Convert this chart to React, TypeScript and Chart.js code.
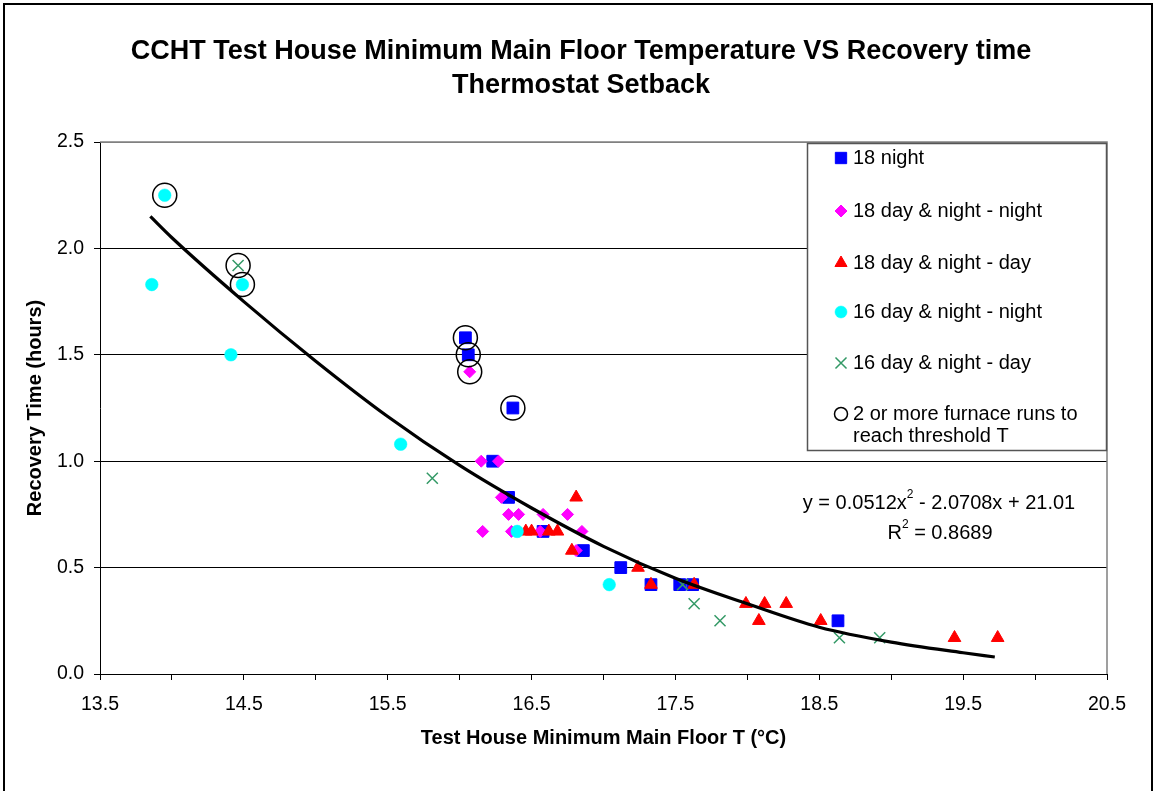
import React, { useEffect, useRef } from 'react';
import { Chart, registerables } from 'chart.js';
import { drawPoint } from 'chart.js/helpers';

Chart.register(...registerables);

const FONT = '"Liberation Sans", Arial, Helvetica, sans-serif';

const titleLines = [
  'CCHT Test House Minimum Main Floor Temperature VS Recovery time',
  'Thermostat Setback',
];
const xAxisTitle = 'Test House Minimum Main Floor T (°C)';
const yAxisTitle = 'Recovery Time (hours)';

const seriesNames = [
  '18 night',
  '18 day & night - night',
  '18 day & night - day',
  '16 day & night - night',
  '16 day & night - day',
];
const circledName = ['2 or more furnace runs to', 'reach threshold T'];

// 18 night (blue squares)
const night18X = [16.04, 16.06, 16.37, 16.23, 16.34, 16.58, 16.86, 17.12, 17.33, 17.53, 17.62, 18.63];
const night18Y = [1.58, 1.5, 1.25, 1.0, 0.83, 0.67, 0.58, 0.5, 0.42, 0.42, 0.42, 0.25];

// 18 day & night - night (magenta diamonds)
const dn18NightX = [16.07, 16.15, 16.27, 16.29, 16.34, 16.41, 16.58, 16.75, 16.16, 16.36, 16.56, 16.85, 16.81];
const dn18NightY = [1.42, 1.0, 1.0, 0.83, 0.75, 0.75, 0.75, 0.75, 0.67, 0.67, 0.67, 0.67, 0.58];

// 18 day & night - day (red triangles)
const dn18DayX = [16.81, 16.46, 16.5, 16.62, 16.68, 16.78, 17.24, 17.33, 17.63, 17.99, 18.12, 18.08, 18.27, 18.51, 19.44, 19.74];
const dn18DayY = [0.83, 0.67, 0.67, 0.67, 0.67, 0.58, 0.5, 0.42, 0.42, 0.33, 0.33, 0.25, 0.33, 0.25, 0.17, 0.17];

// 16 day & night - night (cyan circles)
const dn16NightX = [13.95, 13.86, 14.49, 14.41, 15.59, 16.4, 17.04];
const dn16NightY = [2.25, 1.83, 1.83, 1.5, 1.08, 0.67, 0.42];

// 16 day & night - day (green crosses)
const dn16DayX = [14.46, 15.81, 17.55, 17.63, 17.81, 18.64, 18.92];
const dn16DayY = [1.92, 0.92, 0.42, 0.33, 0.25, 0.17, 0.17];

// 2 or more furnace runs (hollow circles)
const circledX = [13.95, 14.46, 14.49, 16.04, 16.06, 16.07, 16.37];
const circledY = [2.25, 1.92, 1.83, 1.58, 1.5, 1.42, 1.25];

// Polynomial trendline, points
const trendX = [13.85, 14.0, 14.5, 15.0, 15.5, 16.0, 16.5, 17.0, 17.5, 18.0, 18.5, 19.0, 19.5, 19.72];
const trendY = [2.15, 2.05, 1.75, 1.47, 1.21, 0.98, 0.78, 0.6, 0.45, 0.33, 0.22, 0.15, 0.1, 0.08];

const equationParts = ['y = 0.0512x', '2', ' - 2.0708x + 21.01'];
const r2Parts = ['R', '2', ' = 0.8689'];

const xTicksMin = 13.5;
const xTicksMax = 20.5;
const yTicksMin = 0;
const yTicksMax = 2.5;

const pts = (xs: number[], ys: number[]) => xs.map((x, i) => ({ x, y: ys[i] }));

function drawSupLine(ctx: CanvasRenderingContext2D, parts: string[], cx: number, cy: number) {
  const big = `20px ${FONT}`;
  const small = `12px ${FONT}`;
  ctx.font = big;
  const w0 = ctx.measureText(parts[0]).width;
  const w2 = ctx.measureText(parts[2]).width;
  ctx.font = small;
  const w1 = ctx.measureText(parts[1]).width;
  const total = w0 + w1 + w2;
  let x = cx - total / 2;
  ctx.textAlign = 'left';
  ctx.textBaseline = 'middle';
  ctx.font = big;
  ctx.fillText(parts[0], x, cy);
  x += w0;
  ctx.font = small;
  ctx.fillText(parts[1], x, cy - 8);
  x += w1;
  ctx.font = big;
  ctx.fillText(parts[2], x, cy);
}

const decorPlugin = {
  id: 'decor',
  beforeDraw(chart: any) {
    const ctx = chart.ctx;
    ctx.save();
    ctx.fillStyle = '#ffffff';
    ctx.fillRect(0, 0, chart.width, chart.height);
    ctx.restore();
  },
  afterDraw(chart: any) {
    const ctx: CanvasRenderingContext2D = chart.ctx;
    const ca = chart.chartArea;
    ctx.save();
    // plot area border (top & right, gray)
    ctx.strokeStyle = '#808080';
    ctx.lineWidth = 1.5;
    ctx.beginPath();
    ctx.moveTo(ca.left, ca.top);
    ctx.lineTo(ca.right, ca.top);
    ctx.lineTo(ca.right, ca.bottom);
    ctx.stroke();

    // outer frame
    ctx.strokeStyle = '#000';
    ctx.lineWidth = 2;
    ctx.strokeRect(4, 4, chart.width - 8, chart.height + 40);

    // title
    ctx.fillStyle = '#000';
    ctx.textAlign = 'center';
    ctx.textBaseline = 'middle';
    ctx.font = `bold 27px ${FONT}`;
    ctx.fillText(titleLines[0], 581, 52);
    ctx.fillText(titleLines[1], 581, 86);

    // trendline equation
    drawSupLine(ctx, equationParts, 939, 503);
    drawSupLine(ctx, r2Parts, 940, 533);

    // legend
    const bx = 807.5, by = 143.5, bw = 299, bh = 307;
    ctx.fillStyle = '#fff';
    ctx.fillRect(bx, by, bw, bh);
    ctx.strokeStyle = '#555';
    ctx.lineWidth = 1.5;
    ctx.strokeRect(bx, by, bw, bh);

    const rows = [158, 211, 263, 312, 363, 414];
    const legendItems = [...seriesNames, circledName[0]];
    const dsOrder = [1, 2, 3, 4, 5, 6];
    ctx.font = `20px ${FONT}`;
    ctx.textAlign = 'left';
    ctx.textBaseline = 'middle';
    legendItems.forEach((label, i) => {
      const ds = chart.data.datasets[dsOrder[i]];
      const y = rows[i];
      ctx.save();
      ctx.fillStyle = ds.backgroundColor;
      ctx.strokeStyle = ds.borderColor;
      ctx.lineWidth = ds.borderWidth;
      drawPoint(ctx, {
        pointStyle: ds.pointStyle,
        radius: ds.legendRadius,
        rotation: 0,
        borderWidth: ds.borderWidth,
      } as any, 841, y);
      ctx.restore();
      ctx.fillStyle = '#000';
      ctx.fillText(label, 853, y);
    });
    ctx.fillText(circledName[1], 853, 436);
    ctx.restore();
  },
};

export default function App() {
  const canvasRef = useRef<HTMLCanvasElement | null>(null);

  useEffect(() => {
    document.body.style.margin = '0';
    const canvas = canvasRef.current;
    if (!canvas) return;
    const chart = new Chart(canvas, {
      type: 'scatter',
      data: {
        datasets: [
          {
            label: 'Poly. trend',
            data: pts(trendX, trendY),
            showLine: true,
            borderColor: '#000',
            backgroundColor: '#000',
            borderWidth: 3.2,
            pointRadius: 0,
            cubicInterpolationMode: 'monotone',
            order: 0,
          } as any,
          {
            label: seriesNames[0],
            data: pts(night18X, night18Y),
            pointStyle: 'rect',
            pointRadius: 8.3,
            legendRadius: 8,
            backgroundColor: '#0000FF',
            borderColor: '#0000FF',
            borderWidth: 1,
            order: 6,
          },
          {
            label: seriesNames[1],
            data: pts(dn18NightX, dn18NightY),
            pointStyle: 'rectRot',
            pointRadius: 6,
            legendRadius: 6,
            backgroundColor: '#FF00FF',
            borderColor: '#FF00FF',
            borderWidth: 1,
            order: 5,
          },
          {
            label: seriesNames[2],
            data: pts(dn18DayX, dn18DayY),
            pointStyle: 'triangle',
            pointRadius: 7.3,
            legendRadius: 7,
            backgroundColor: '#FF0000',
            borderColor: '#FF0000',
            borderWidth: 1,
            order: 4,
          },
          {
            label: seriesNames[3],
            data: pts(dn16NightX, dn16NightY),
            pointStyle: 'circle',
            pointRadius: 6.3,
            legendRadius: 6,
            backgroundColor: '#00FFFF',
            borderColor: '#00FFFF',
            borderWidth: 0.5,
            order: 3,
          },
          {
            label: seriesNames[4],
            data: pts(dn16DayX, dn16DayY),
            pointStyle: 'crossRot',
            pointRadius: 7.8,
            legendRadius: 7.8,
            backgroundColor: '#339966',
            borderColor: '#339966',
            borderWidth: 1.5,
            order: 2,
          },
          {
            label: circledName.join(' '),
            data: pts(circledX, circledY),
            pointStyle: 'circle',
            pointRadius: 12,
            legendRadius: 6.5,
            backgroundColor: 'rgba(0,0,0,0)',
            borderColor: '#000',
            borderWidth: 1.5,
            order: 1,
          },
        ] as any,
      },
      options: {
        responsive: false,
        animation: false,
        events: [],
        layout: { padding: { top: 142, right: 49, bottom: 0, left: 0 } },
        plugins: {
          legend: { display: false },
          tooltip: { enabled: false },
          title: { display: false },
        },
        scales: {
          x: {
            type: 'linear',
            min: xTicksMin,
            max: xTicksMax,
            afterFit(scale: any) {
              scale.height = 117;
            },
            ticks: {
              stepSize: 0.5,
              autoSkip: false,
              maxRotation: 0,
              color: '#000',
              padding: 13,
              font: { family: FONT, size: 19.5 },
              callback: (v: any) => (Math.round((Number(v) - xTicksMin) * 2) % 2 === 0 ? Number(v).toFixed(1) : ''),
            },
            grid: {
              drawOnChartArea: false,
              drawTicks: true,
              tickLength: 6,
              tickColor: '#000',
            },
            border: { color: '#000', width: 1 },
            title: {
              display: true,
              text: xAxisTitle,
              color: '#000',
              font: { family: FONT, size: 20, weight: 'bold' },
              padding: { top: 0, bottom: 41 },
            },
          },
          y: {
            type: 'linear',
            min: yTicksMin,
            max: yTicksMax,
            afterFit(scale: any) {
              scale.width = 100;
            },
            ticks: {
              stepSize: 0.5,
              color: '#000',
              padding: 10,
              font: { family: FONT, size: 19.5 },
              callback: (v: any) => Number(v).toFixed(1),
            },
            grid: {
              color: (c: any) => (c.tick && c.tick.value === yTicksMax ? '#808080' : '#000'),
              lineWidth: 1,
              tickLength: 6,
              tickColor: '#000',
            },
            border: { color: '#000', width: 1 },
            title: {
              display: true,
              text: yAxisTitle,
              color: '#000',
              font: { family: FONT, size: 20, weight: 'bold' },
              padding: { top: 23, bottom: 0 },
            },
          },
        },
      } as any,
      plugins: [decorPlugin],
    });
    return () => chart.destroy();
  }, []);

  return (
    <div style={{ width: 1156, height: 791, margin: 0, padding: 0 }}>
      <canvas ref={canvasRef} width={1156} height={791} style={{ display: 'block' }} />
    </div>
  );
}
